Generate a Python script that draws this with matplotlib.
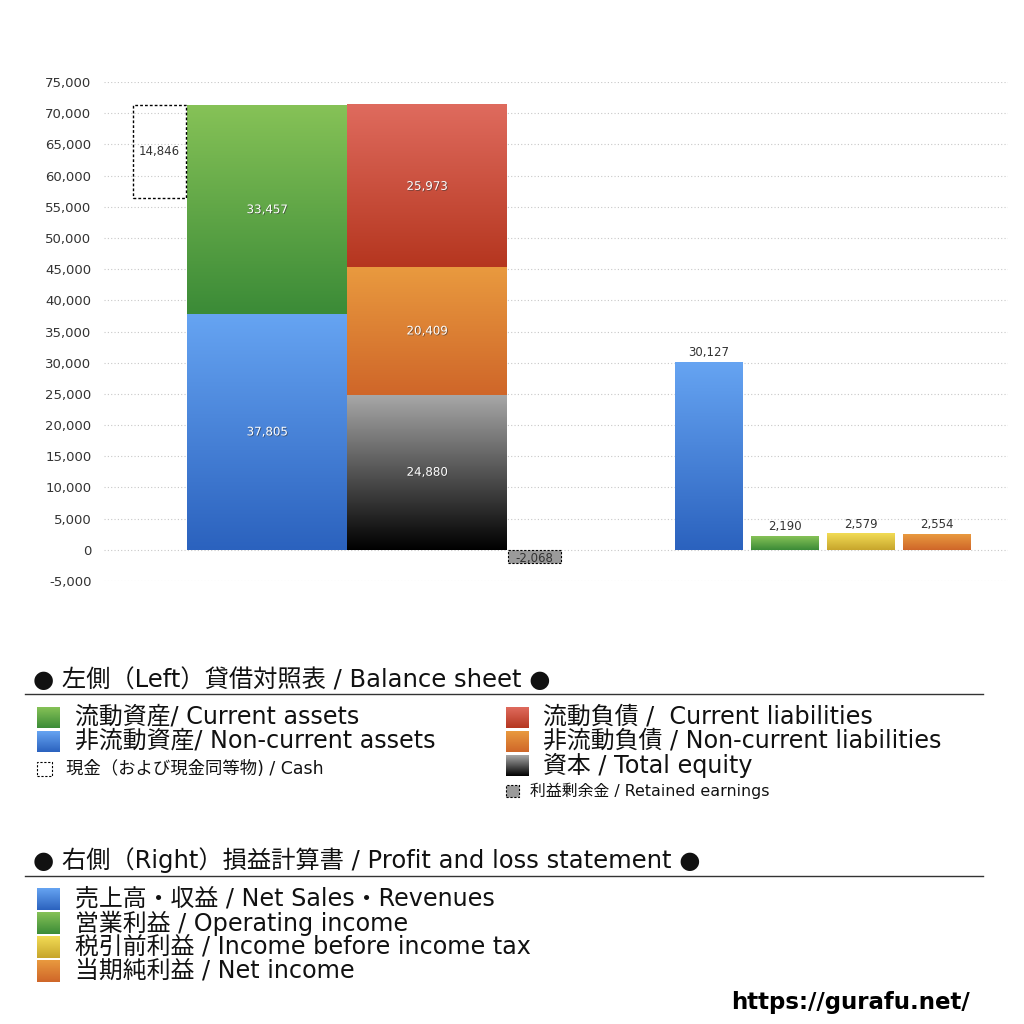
import numpy as np
import matplotlib
matplotlib.use("Agg")
import matplotlib.pyplot as plt
from matplotlib.colors import LinearSegmentedColormap
from matplotlib.patches import Rectangle
import matplotlib.patheffects as pe

plt.rcParams['font.family'] = ['DejaVu Sans', 'Noto Sans CJK JP']

# Balance sheet (left)
current_assets = 33457
noncurrent_assets = 37805
cash = 14846
current_liab = 25973
noncurrent_liab = 20409
equity = 24880
retained = -2068
# P&L (right)
pl_names = ["売上高・収益 / Net Sales・Revenues", "営業利益 / Operating income",
            "税引前利益 / Income before income tax", "当期純利益 / Net income"]
pl_values = [30127, 2190, 2579, 2554]

yticks = np.arange(-5000, 75001, 5000)

# gradients (top, bottom)
GREEN = ("#86c257", "#3b8b37")
BLUE = ("#66a4f2", "#2b62be")
RED = ("#df6b5e", "#b5361f")
ORANGE = ("#e99a3f", "#cf6629")
GRAY = ("#a8a8a8", "#000000")
YELLOW = ("#f2dc55", "#c7a52c")
pl_colors = [BLUE, GREEN, YELLOW, ORANGE]


def grad(ax, x0, w, y0, y1, cols, z=2):
    cmap = LinearSegmentedColormap.from_list("g", [cols[1], cols[0]])
    g = np.linspace(0, 1, 256).reshape(-1, 1)
    ax.imshow(g, extent=[x0, x0 + w, y0, y1], origin="lower", aspect="auto",
              cmap=cmap, zorder=z, interpolation="bilinear")


def inlabel(ax, x, y, s, color="white"):
    ax.text(x, y, s, ha="center", va="center", fontsize=8.5, color=color, zorder=5,
            path_effects=[pe.withSimplePatchShadow(offset=(0.6, -0.6), shadow_rgbFace="#333", alpha=0.6)])


fig = plt.figure(figsize=(10.24, 10.24), dpi=100)
ax = fig.add_axes([104/1024, 1-581/1024, 904/1024, 499/1024])
ax.set_xlim(0, 904)
ax.set_ylim(-5000, 75000)
for s in ax.spines.values():
    s.set_visible(False)
ax.set_xticks([])
ax.set_yticks(yticks)
ax.set_yticklabels([f"{v:,}" for v in yticks], fontsize=9.5, color="#333")
ax.tick_params(axis="y", length=0, pad=9)
for v in yticks:
    ax.axhline(v, color="#c8c8c8", lw=0.8, ls=(0, (1, 2)), zorder=0)

# left side layout
cw, bw = 53, 160
xc, xa, xl, xr = 29, 83, 243, 403
total = current_assets + noncurrent_assets

grad(ax, xa, bw, 0, noncurrent_assets, BLUE)
grad(ax, xa, bw, noncurrent_assets, total, GREEN)
inlabel(ax, xa + bw/2, noncurrent_assets/2, f"{noncurrent_assets:,}")
inlabel(ax, xa + bw/2, noncurrent_assets + current_assets/2, f"{current_assets:,}")

ax.add_patch(Rectangle((xc, total - cash), cw, cash, fill=False, ec="black",
                       lw=1, ls=(0, (2, 1.5)), zorder=3))
ax.text(xc + cw/2, total - cash/2, f"{cash:,}", ha="center", va="center",
        fontsize=8.5, color="#333", zorder=5)

grad(ax, xl, bw, 0, equity, GRAY)
grad(ax, xl, bw, equity, equity + noncurrent_liab, ORANGE)
grad(ax, xl, bw, equity + noncurrent_liab, equity + noncurrent_liab + current_liab, RED)
inlabel(ax, xl + bw/2, equity/2, f"{equity:,}")
inlabel(ax, xl + bw/2, equity + noncurrent_liab/2, f"{noncurrent_liab:,}")
inlabel(ax, xl + bw/2, equity + noncurrent_liab + current_liab/2, f"{current_liab:,}")

ax.add_patch(Rectangle((xr + 1, retained), cw, -retained, fc="#9a9a9a", ec="black",
                       lw=0.8, ls=(0, (2, 1.5)), zorder=3))
ax.text(xr + 1 + cw/2, retained/2 - 300, f"{retained:,}", ha="center", va="center",
        fontsize=8.5, color="#333", zorder=5)

# right side
px0, pw, pstep = 571, 68, 76
for i, (v, c) in enumerate(zip(pl_values, pl_colors)):
    x0 = px0 + i * pstep
    grad(ax, x0, pw, 0, v, c)
    ax.text(x0 + pw/2, v + 500, f"{v:,}", ha="center", va="bottom", fontsize=8.5, color="#333")


# legends
def swatch(x, y, w, h, cols=None, dashed=False, fc=None):
    if cols is not None:
        sa = fig.add_axes([x/1024, 1-(y+h)/1024, w/1024, h/1024])
        sa.set_axis_off()
        grad(sa, 0, 1, 0, 1, cols)
        sa.set_xlim(0, 1)
        sa.set_ylim(0, 1)
    else:
        fig.patches.append(Rectangle((x/1024, 1-(y+h)/1024), w/1024, h/1024,
                                     transform=fig.transFigure, fill=fc is not None,
                                     fc=fc, ec="black", lw=0.8, ls=(0, (2, 1.5))))


def ftext(x, y, s, size, **kw):
    fig.text(x/1024, 1-y/1024, s, fontsize=size, va="center", ha="left", color="#111", **kw)


ftext(33, 680, "● 左側（Left）貸借対照表 / Balance sheet ●", 17.5)
fig.add_artist(plt.Line2D([25/1024, 983/1024], [1-694/1024]*2, color="#333", lw=1))
swatch(37, 707, 23, 21, GREEN)
ftext(75, 717, "流動資産/ Current assets", 17.2)
swatch(37, 731, 23, 21, BLUE)
ftext(75, 741, "非流動資産/ Non-current assets", 17.2)
swatch(37, 762, 15, 14, dashed=True)
ftext(66, 769, "現金（および現金同等物) / Cash", 12.5)

swatch(506, 707, 23, 21, RED)
ftext(543, 717, "流動負債 /  Current liabilities", 17.2)
swatch(506, 731, 23, 21, ORANGE)
ftext(543, 741, "非流動負債 / Non-current liabilities", 17.2)
swatch(506, 755, 23, 21, GRAY)
ftext(543, 765, "資本 / Total equity", 17.2)
swatch(506, 785, 13, 12, dashed=True, fc="#9a9a9a")
ftext(530, 791, "利益剰余金 / Retained earnings", 11.4)

ftext(33, 860, "● 右側（Right）損益計算書 / Profit and loss statement ●", 17.5)
fig.add_artist(plt.Line2D([25/1024, 983/1024], [1-876/1024]*2, color="#333", lw=1))
for i, (n, c) in enumerate(zip(pl_names, pl_colors)):
    y = 888 + i * 24
    swatch(37, y, 23, 22, c)
    ftext(75, y + 11, n, 17.2)

fig.text(970/1024, 1-1003/1024, "https://gurafu.net/", fontsize=16.5, fontweight="bold",
         ha="right", va="center", color="black")

fig.savefig("out.png", dpi=100, facecolor="white")
